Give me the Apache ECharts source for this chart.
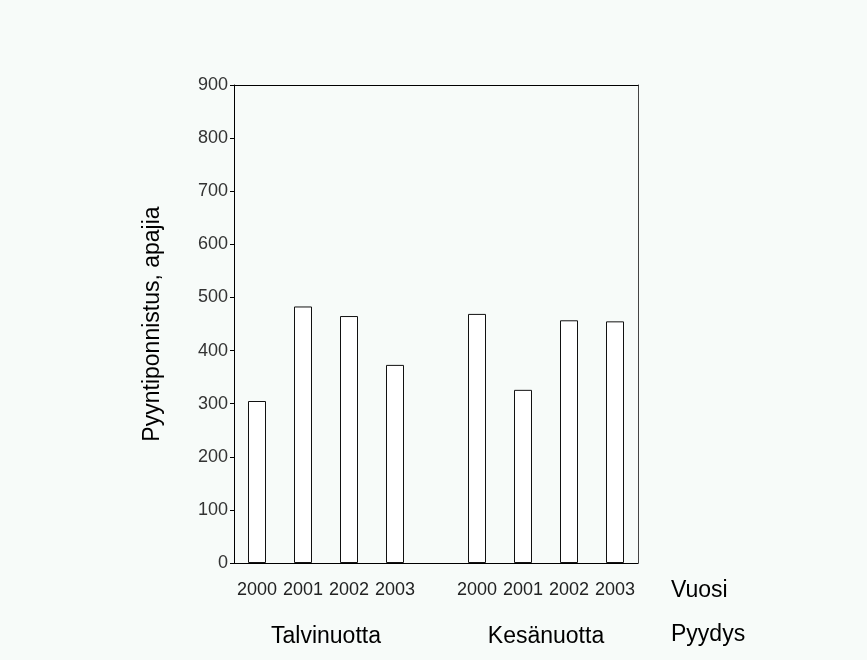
<!DOCTYPE html>
<html>
<head>
<meta charset="utf-8">
<script src="https://cdn.jsdelivr.net/npm/echarts@6/dist/echarts.min.js"></script>
<style>
html,body{margin:0;padding:0;background:#f7fbf9;}
#c{width:867px;height:660px;}
</style>
</head>
<body>
<div id="c"></div>
<script>
const years = ['2000', '2001', '2002', '2003'];
const talvinuotta = [305, 483, 465, 373];
const kesanuotta = [469, 326, 457, 455];
const groupNames = ['Talvinuotta', 'Kesänuotta'];
const yTicks = [0, 100, 200, 300, 400, 500, 600, 700, 800, 900];
const yTitle = 'Pyyntiponnistus, apajia';
const xTitle = 'Vuosi';
const groupTitle = 'Pyydys';

const FONT = 'Liberation Sans, Arial, sans-serif';
const chart = echarts.init(document.getElementById('c'));
const yMin = yTicks[0], yMax = yTicks[yTicks.length - 1], yStep = yTicks[1] - yTicks[0];

const barSeries = (data, idx) => ({
  type: 'bar', xAxisIndex: idx, yAxisIndex: idx, data: data, barWidth: 18,
  itemStyle: { color: '#ffffff', borderColor: '#111', borderWidth: 1 },
  silent: true
});
const groupAxis = gi => ({
  type: 'category', gridIndex: gi, data: years,
  axisLine: { show: false }, axisTick: { show: false },
  axisLabel: { color: '#222', fontSize: 18, fontFamily: FONT, margin: 18, interval: 0, hideOverlap: false },
  name: groupNames[gi - 1], nameLocation: 'middle', nameGap: 62,
  nameTextStyle: { color: '#000', fontSize: 23, fontFamily: FONT }
});
const hiddenY = gi => ({ type: 'value', gridIndex: gi, min: yMin, max: yMax, show: false });
const frameLine = color => ({ show: true, onZero: false, lineStyle: { color: color, width: 1 } });

chart.setOption({
  backgroundColor: '#f7fbf9',
  animation: false,
  grid: [
    { left: 234, top: 85, width: 404, height: 478 },
    { left: 234, top: 85, width: 184, height: 478 },
    { left: 454, top: 85, width: 184, height: 478 }
  ],
  xAxis: [
    groupAxis(1),
    groupAxis(2),
    { type: 'value', gridIndex: 0, min: 0, max: 1, position: 'bottom',
      axisLine: frameLine('#000'),
      axisTick: { show: false }, axisLabel: { show: false }, splitLine: { show: false } },
    { type: 'value', gridIndex: 0, min: 0, max: 1, position: 'top',
      axisLine: frameLine('#000'),
      axisTick: { show: false }, axisLabel: { show: false }, splitLine: { show: false } }
  ],
  yAxis: [
    hiddenY(1),
    hiddenY(2),
    { type: 'value', gridIndex: 0, min: yMin, max: yMax, interval: yStep, position: 'left',
      axisLine: frameLine('#000'),
      axisTick: { show: true, length: 4, lineStyle: { color: '#000' } },
      axisLabel: { color: '#333', fontSize: 18, fontFamily: FONT, margin: 6 },
      splitLine: { show: false },
      name: yTitle, nameLocation: 'middle', nameGap: 70, nameRotate: 90,
      nameTextStyle: { color: '#000', fontSize: 23, fontFamily: FONT } },
    { type: 'value', gridIndex: 0, min: yMin, max: yMax, position: 'right',
      axisLine: frameLine('#444'),
      axisTick: { show: false }, axisLabel: { show: false }, splitLine: { show: false } }
  ],
  graphic: [
    { type: 'text', left: 671, top: 579, style: { text: xTitle, fill: '#000', font: '23px ' + FONT } },
    { type: 'text', left: 671, top: 623, style: { text: groupTitle, fill: '#000', font: '23px ' + FONT } }
  ],
  series: [barSeries(talvinuotta, 0), barSeries(kesanuotta, 1)]
});
</script>
</body>
</html>
